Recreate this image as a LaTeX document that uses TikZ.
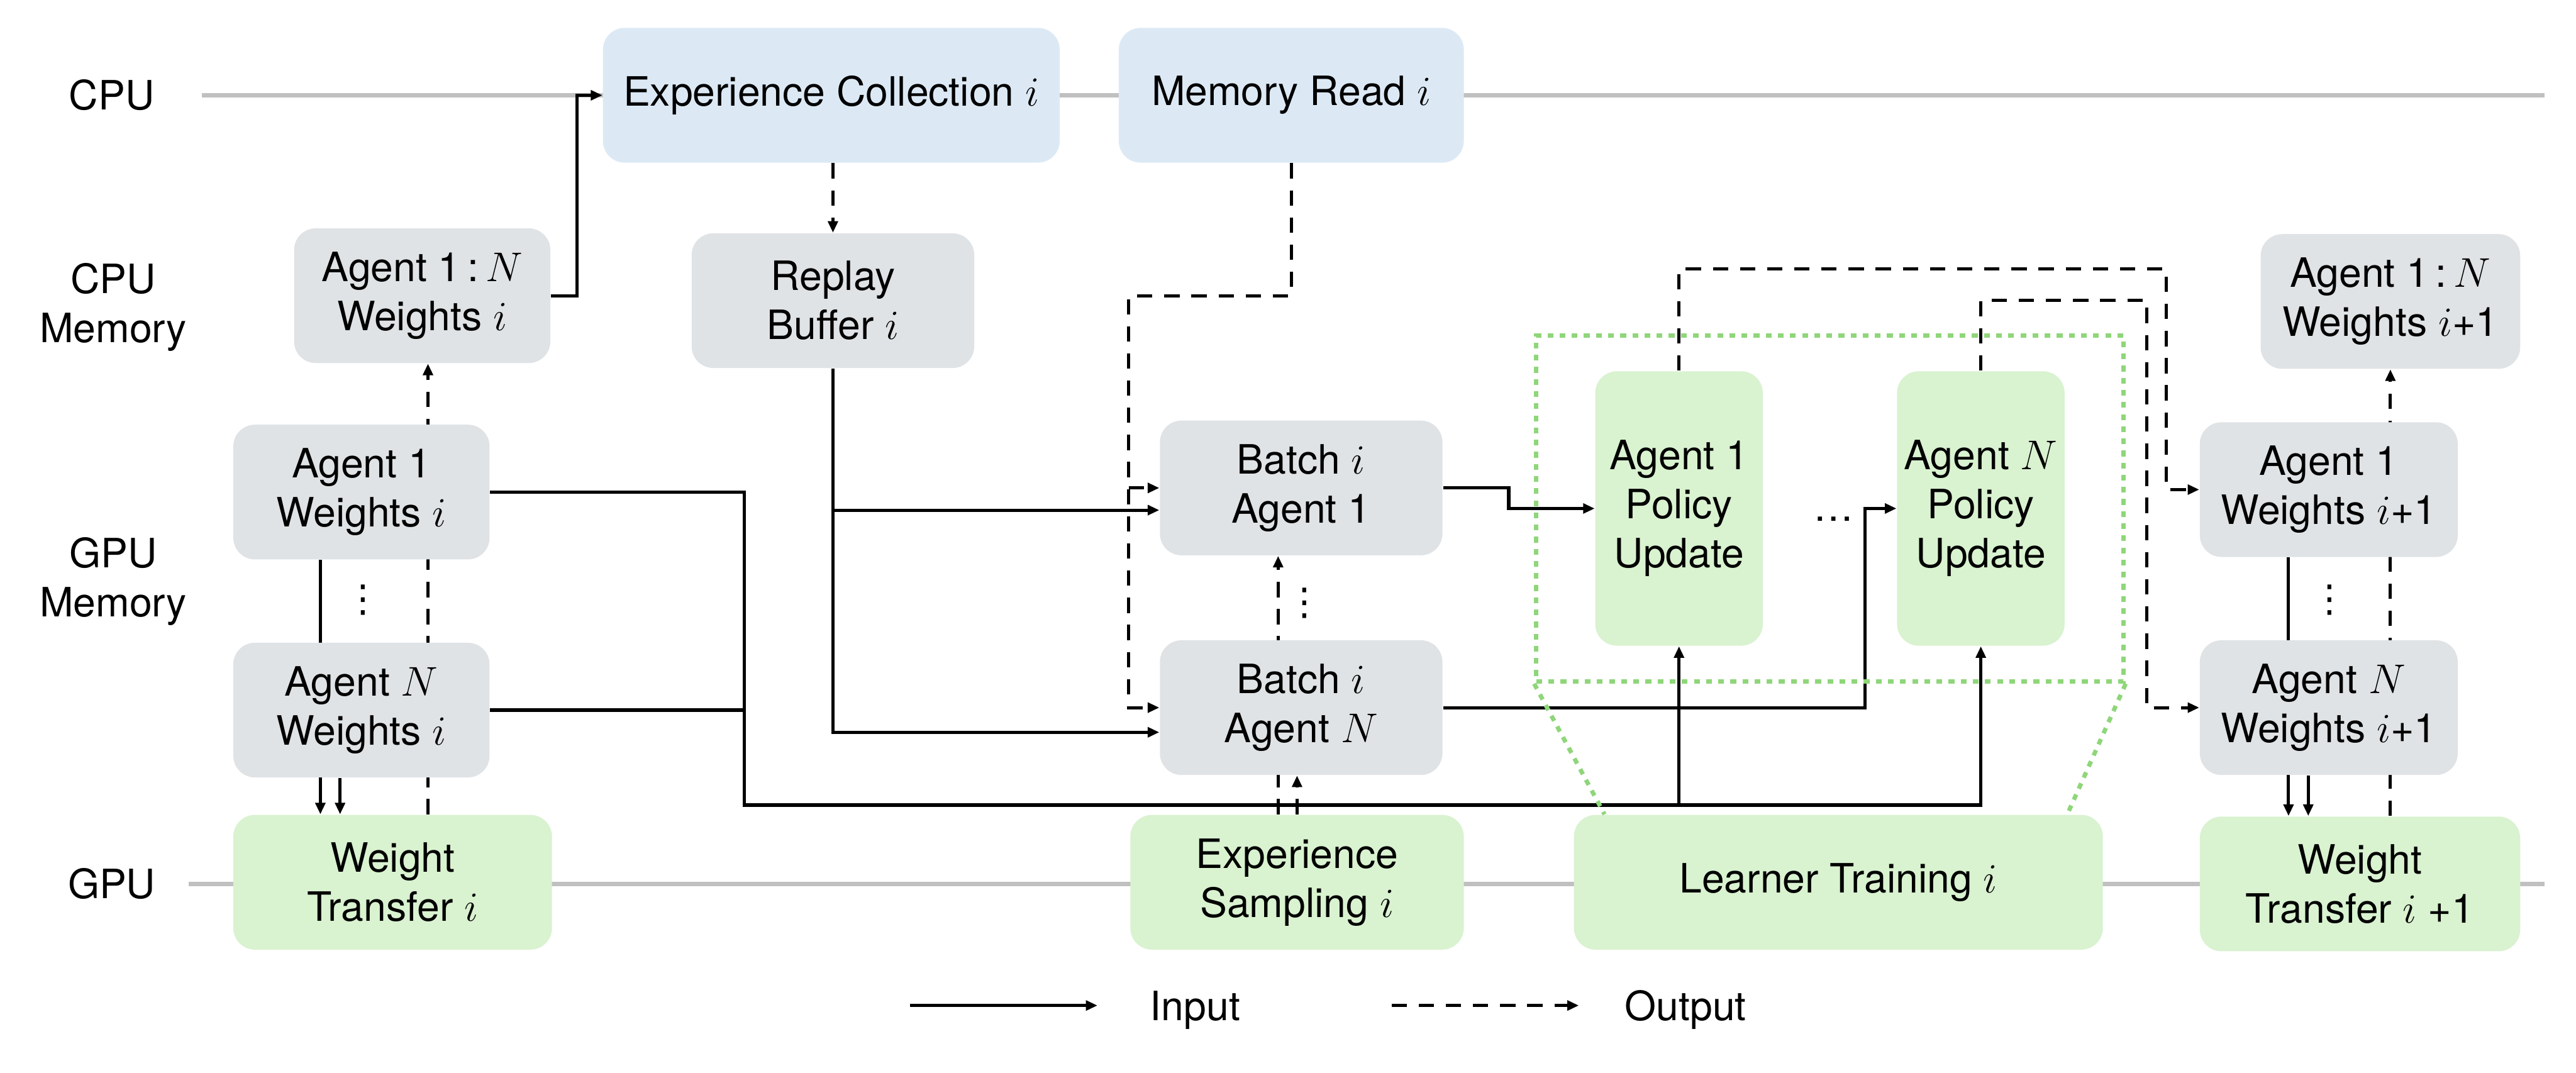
\documentclass[tikz,border=0pt]{standalone}
\usepackage{fontspec}
\setmainfont{TeX Gyre Heros}
\newfontfamily\symfont{DejaVu Sans}
\usetikzlibrary{arrows.meta,positioning,fit,backgrounds}

\definecolor{cpublue}{HTML}{DCE9F5}
\definecolor{memgray}{HTML}{E0E3E5}
\definecolor{gpugreen}{HTML}{D9F2D0}
\definecolor{lanegray}{HTML}{C0C0C0}
\definecolor{zoomgreen}{HTML}{8FD67A}

\begin{document}
\begin{tikzpicture}[
    box/.style={rectangle, rounded corners=7.5pt, inner sep=0pt, minimum height=1.64cm, align=center, font=\fontsize{14}{17}\selectfont},
    cpubox/.style={box, fill=cpublue},
    membox/.style={box, fill=memgray},
    gpubox/.style={box, fill=gpugreen},
    lbl/.style={align=center, font=\fontsize{14}{17}\selectfont},
    vdotlbl/.style={inner sep=0pt, font=\symfont\fontsize{13}{15}\selectfont},
    lane/.style={draw=lanegray, line width=1.4pt},
    link/.style={line width=1.1pt},
    inflow/.style={link, -{Triangle[length=4pt,width=3.4pt]}},
    outflow/.style={inflow, dash pattern=on 5.3pt off 4.1pt},
    zoomframe/.style={draw=zoomgreen, line width=1.5pt, dash pattern=on 2pt off 2.2pt}
]
\useasboundingbox (0,0) rectangle (31.36,13.06);

% Lane labels
\node[lbl] (lblcpu) at (1.36,11.90) {CPU};
\node[lbl] (lblcpumem) at (1.38,9.32) {CPU\\Memory};
\node[lbl] (lblgpumem) at (1.38,5.98) {GPU\\Memory};
\node[lbl] (lblgpu) at (1.36,2.30) {GPU};

% Iteration i
\node[cpubox, minimum width=5.56cm] (expcol) at (10.12,11.90) {Experience Collection $i$};
\node[cpubox, minimum width=4.20cm] (memread) at (15.72,11.90) {Memory Read $i$};
\node[membox, minimum width=3.12cm] (cpuw) at (5.14,9.46) {Agent 1\,:\,$N$\\Weights $i$};
\node[membox, minimum width=3.44cm] (replay) at (10.14,9.40) {Replay\\Buffer $i$};
\node[membox, minimum width=3.12cm] (gwone) at (4.40,7.07) {Agent 1\\Weights $i$};
\node[membox, minimum width=3.12cm, below=1cm of gwone] (gwn) {Agent $N$\\Weights $i$};
\node[gpubox, minimum width=3.88cm] (wtrans) at (4.78,2.32) {Weight\\Transfer $i$};
\node[membox, minimum width=3.44cm] (bone) at (15.84,7.12) {Batch $i$\\Agent 1};
\node[membox, minimum width=3.44cm, below=1.02cm of bone] (bn) {Batch $i$\\Agent $N$};
\node[gpubox, minimum width=4.06cm] (esamp) at (15.79,2.32) {Experience\\Sampling $i$};
\node[gpubox, minimum width=6.44cm] (learn) at (22.38,2.32) {Learner Training $i$};
\node[gpubox, minimum width=2.04cm, minimum height=3.34cm] (puone) at (20.44,6.87) {Agent 1\\Policy\\Update};
\node[gpubox, minimum width=2.04cm, minimum height=3.34cm, right=1.62cm of puone] (pun) {Agent $N$\\Policy\\Update};

% Iteration i+1
\node[membox, minimum width=3.16cm] (cpuwnext) at (29.10,9.39) {Agent 1\,:\,$N$\\Weights $i$+1};
\node[membox, minimum width=3.14cm] (gwonenext) at (28.35,7.10) {Agent 1\\Weights $i$+1};
\node[membox, minimum width=3.14cm, below=1cm of gwonenext] (gwnnext) {Agent $N$\\Weights $i$+1};
\node[gpubox, minimum width=3.90cm] (wtransnext) at (28.73,2.30) {Weight\\Transfer $i$ +1};

\node[vdotlbl] (dotsl) at (4.42,5.76) {⋮};
\node[vdotlbl] (dotsm) at (15.88,5.72) {⋮};
\node[vdotlbl] (dotsr) at (28.36,5.76) {⋮};
\node[lbl] (dotsh) at (22.32,6.74) {\dots};

\node[zoomframe, fit=(puone)(pun), inner xsep=0.71cm, inner ysep=0.43cm] (update) {};
\draw[zoomframe] (update.south west) -- ([xshift=0.38cm]learn.north west);
\draw[zoomframe] (update.south east) -- ([xshift=-0.44cm]learn.north east);

% Legend
\coordinate (inbeg) at (11.08,0.82);
\coordinate (inend) at (13.36,0.82);
\coordinate (outbeg) at (16.94,0.82);
\coordinate (outend) at (19.22,0.82);
\node[lbl, anchor=base] (lgin) at (14.55,0.64) {Input};
\node[lbl, anchor=base] (lgout) at (20.52,0.64) {Output};
\draw[inflow] (inbeg) -- (inend);
\draw[outflow] (outbeg) -- (outend);

\begin{scope}[on background layer]
\draw[lane] (2.46,11.90) -- (30.98,11.90);
\draw[lane] (2.30,2.30) -- (30.98,2.30);

\coordinate (mrbend) at (13.74,9.46);
\coordinate (bus) at (9.06,3.26);
\coordinate (bonein) at ([yshift=-0.27cm]bone.west);
\coordinate (bnin) at ([yshift=-0.30cm]bn.west);

\draw[inflow] (cpuw.east) -- ++(0.32,0) |- (expcol.west);
\draw[outflow] (expcol.south -| replay.north) -- (replay.north);
\draw[outflow] (memread.south) |- (mrbend) |- (bn.west);
\draw[outflow] (mrbend |- bone.west) -- (bone.west);
\draw[inflow] (replay.south) |- (bnin);
\draw[inflow] (replay.south |- bonein) -- (bonein);
\draw[outflow] ([xshift=-0.23cm]esamp.north) -- ([xshift=-0.23cm]esamp.north |- bone.south);
\draw[outflow] (esamp.north) -- (esamp.north |- bn.south);

\draw[inflow] (bone.east) -- ++(0.8,0) |- (puone.west);
\draw[inflow] (bn.east) -| ([xshift=-0.38cm]pun.west) -- (pun.west);
\draw[inflow] (gwone.east) -| (bus) -| (pun.south);
\draw[inflow] (bus -| puone.south) -- (puone.south);
\draw[link] (gwn.east) -- (gwn.east -| bus);

\draw[inflow] ([xshift=-0.50cm]gwone.south) -- ([xshift=-0.50cm]gwone.south |- wtrans.north);
\draw[inflow] ([xshift=-0.26cm]gwn.south) -- ([xshift=-0.26cm]gwn.south |- wtrans.north);
\draw[outflow] ([xshift=0.07cm]cpuw.south |- wtrans.north) -- ([xshift=0.07cm]cpuw.south);

\draw[outflow] (puone.north) -- ++(0,1.24) -| ([xshift=-0.40cm]gwonenext.west) -- (gwonenext.west);
\draw[outflow] (pun.north) -- ++(0,0.86) -| ([xshift=-0.64cm]gwnnext.west) -- (gwnnext.west);

\draw[inflow] ([xshift=-0.49cm]gwonenext.south) -- ([xshift=-0.49cm]gwonenext.south |- wtransnext.north);
\draw[inflow] ([xshift=-0.25cm]gwnnext.south) -- ([xshift=-0.25cm]gwnnext.south |- wtransnext.north);
\draw[outflow] (wtransnext.north -| cpuwnext.south) -- (cpuwnext.south);
\end{scope}
\end{tikzpicture}
\end{document}
